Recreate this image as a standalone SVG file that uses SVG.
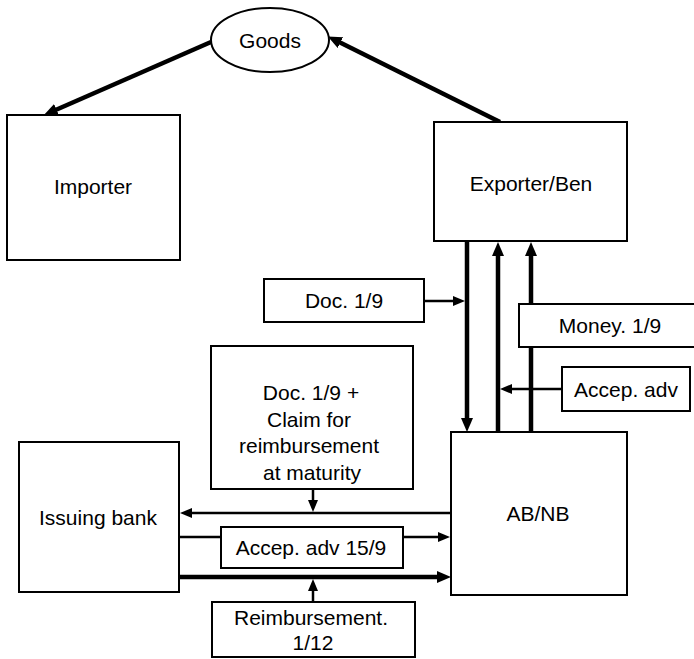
<svg xmlns="http://www.w3.org/2000/svg" width="694" height="659" viewBox="0 0 694 659">
  <style>
    .box { fill: #fff; stroke: #000; stroke-width: 2; }
    .lbl { font-family: "Liberation Sans", Arial, Helvetica, sans-serif; font-size: 21px; fill: #000; text-anchor: middle; }
    .thick { stroke: #000; stroke-width: 4.5; fill: none; }
    .thin { stroke: #000; stroke-width: 2.5; fill: none; }
  </style>
  <defs>
    <marker id="headBig" markerUnits="userSpaceOnUse" viewBox="0 0 14 12" refX="6" refY="6" markerWidth="14" markerHeight="12" orient="auto">
      <path d="M0,0 L14,6 L0,12 z" fill="#000"/>
    </marker>
    <marker id="headSmall" markerUnits="userSpaceOnUse" viewBox="0 0 12 10" refX="5" refY="5" markerWidth="12" markerHeight="10" orient="auto">
      <path d="M0,0 L12,5 L0,10 z" fill="#000"/>
    </marker>
  </defs>

  <!-- flows between the parties -->
  <g id="connectors">
    <path class="thick" d="M500,122 L335,40" marker-end="url(#headBig)"/>
    <path class="thick" d="M211,42 L51,112" marker-end="url(#headBig)"/>
    <path class="thick" d="M467,241 L467,424" marker-end="url(#headBig)"/>
    <path class="thick" d="M498,432 L498,250" marker-end="url(#headBig)"/>
    <path class="thick" d="M531,432 L531,250" marker-end="url(#headBig)"/>
    <path class="thin" d="M424,301 L458,301" marker-end="url(#headSmall)"/>
    <path class="thin" d="M562,389 L507,389" marker-end="url(#headSmall)"/>
    <path class="thin" d="M313,489 L313,505" marker-end="url(#headSmall)"/>
    <path class="thin" d="M451,513 L187,513" marker-end="url(#headSmall)"/>
    <path class="thin" d="M179,537 L443,537" marker-end="url(#headSmall)"/>
    <path class="thick" d="M179,577 L443,577" marker-end="url(#headBig)"/>
    <path class="thin" d="M313,602 L313,586" marker-end="url(#headSmall)"/>
  </g>

  <g id="goods">
    <ellipse class="box" cx="270" cy="40" rx="59" ry="32"/>
    <text class="lbl" x="270" y="48">Goods</text>
  </g>

  <g id="importer">
    <rect class="box" x="7" y="115" width="173" height="145"/>
    <text class="lbl" x="93" y="194">Importer</text>
  </g>

  <g id="exporter">
    <rect class="box" x="434" y="122" width="193" height="119"/>
    <text class="lbl" x="531" y="191">Exporter/Ben</text>
  </g>

  <g id="abnb">
    <rect class="box" x="451" y="432" width="176" height="163"/>
    <text class="lbl" x="538" y="521">AB/NB</text>
  </g>

  <g id="issuing-bank">
    <rect class="box" x="19" y="442" width="160" height="150"/>
    <text class="lbl" x="98" y="525">Issuing bank</text>
  </g>

  <g id="doc-label">
    <rect class="box" x="264" y="279" width="160" height="43"/>
    <text class="lbl" x="344" y="308">Doc. 1/9</text>
  </g>

  <g id="money-label">
    <rect class="box" x="519" y="304" width="185" height="43"/>
    <text class="lbl" x="610" y="333">Money. 1/9</text>
  </g>

  <g id="accep-label">
    <rect class="box" x="562" y="367" width="128" height="44"/>
    <text class="lbl" x="626" y="397">Accep. adv</text>
  </g>

  <g id="claim-label">
    <rect class="box" x="211" y="346" width="202" height="143"/>
    <text class="lbl" x="311" y="400">Doc. 1/9 +</text>
    <text class="lbl" x="309" y="427">Claim for</text>
    <text class="lbl" x="309" y="453">reimbursement</text>
    <text class="lbl" x="312" y="480">at maturity</text>
  </g>

  <g id="accep-15-label">
    <rect class="box" x="221" y="527" width="182" height="41"/>
    <text class="lbl" x="311" y="555">Accep. adv 15/9</text>
  </g>

  <g id="reimbursement-label">
    <rect class="box" x="212" y="602" width="203" height="55"/>
    <text class="lbl" x="311" y="625">Reimbursement.</text>
    <text class="lbl" x="313" y="650">1/12</text>
  </g>
</svg>
